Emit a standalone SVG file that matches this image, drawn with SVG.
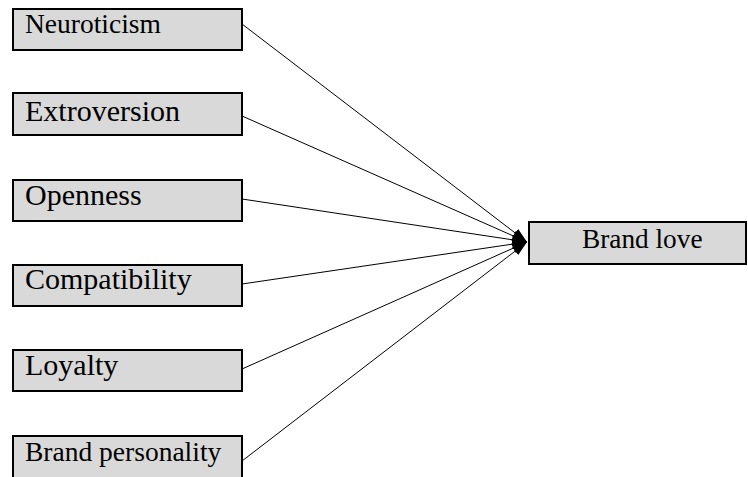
<svg xmlns="http://www.w3.org/2000/svg" width="748" height="477" viewBox="0 0 748 477">
<style>
.box{fill:#d9d9d9;stroke:#000;stroke-width:2}
.t{font-family:"Liberation Serif","Times New Roman",serif;fill:#000}
.c{stroke:#000;stroke-width:1;fill:none;marker-end:url(#ah)}
</style>
<defs>
<marker id="ah" markerUnits="userSpaceOnUse" viewBox="0 0 15 10" refX="15" refY="5" markerWidth="15" markerHeight="10" orient="auto">
<path d="M0,0 L15,5 L0,10 z" fill="#000"/>
</marker>
</defs>
<rect width="748" height="477" fill="#fff"/>
<g id="neuroticism"><rect class="box" x="13" y="9" width="229" height="41"/><text class="t" x="25" y="33" font-size="27.5">Neuroticism</text></g>
<g id="extroversion"><rect class="box" x="13" y="93" width="229" height="42"/><text class="t" x="25" y="121" font-size="30">Extroversion</text></g>
<g id="openness"><rect class="box" x="13" y="180" width="229" height="41"/><text class="t" x="25" y="205" font-size="30">Openness</text></g>
<g id="compatibility"><rect class="box" x="13" y="265" width="229" height="41"/><text class="t" x="25" y="289" font-size="30">Compatibility</text></g>
<g id="loyalty"><rect class="box" x="13" y="350" width="229" height="41"/><text class="t" x="25" y="375" font-size="30">Loyalty</text></g>
<g id="brand-personality"><rect class="box" x="13" y="436" width="229" height="45"/><text class="t" x="25" y="461" font-size="27.5">Brand personality</text></g>
<g id="brand-love"><rect class="box" x="529" y="222" width="217" height="42"/><text class="t" x="582" y="248" font-size="27.3">Brand love</text></g>
<g id="connectors">
<line class="c" x1="242" y1="24" x2="527" y2="242"/>
<line class="c" x1="242" y1="116" x2="527" y2="242" stroke-width="1.6"/>
<line class="c" x1="242" y1="199" x2="527" y2="242"/>
<line class="c" x1="242" y1="284" x2="527" y2="242"/>
<line class="c" x1="242" y1="369" x2="527" y2="242"/>
<line class="c" x1="242" y1="461" x2="527" y2="242"/>
</g>
</svg>
